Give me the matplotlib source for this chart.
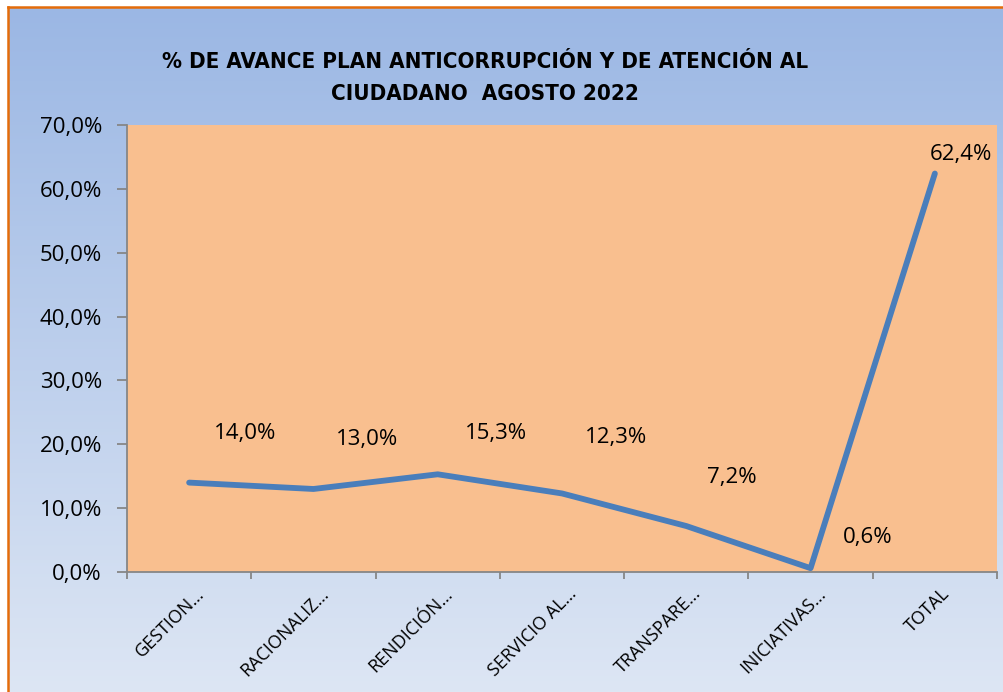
import matplotlib.pyplot as plt
import numpy as np
from matplotlib.colors import LinearSegmentedColormap
from matplotlib.lines import Line2D
from matplotlib.transforms import ScaledTranslation

# ── Data ──────────────────────────────────────────────────────────────
categories = ['GESTION…', 'RACIONALIZ…', 'RENDICIÓN…', 'SERVICIO AL…',
              'TRANSPARE…', 'INICIATIVAS…', 'TOTAL']
values = [14.0, 13.0, 15.3, 12.3, 7.2, 0.6, 62.4]
value_labels = ['14,0%', '13,0%', '15,3%', '12,3%', '7,2%', '0,6%', '62,4%']
y_ticks = [0, 10, 20, 30, 40, 50, 60, 70]
y_tick_labels = ['0,0%', '10,0%', '20,0%', '30,0%', '40,0%', '50,0%', '60,0%', '70,0%']
title = '% DE AVANCE PLAN ANTICORRUPCIÓN Y DE ATENCIÓN AL\nCIUDADANO  AGOSTO 2022'

W, H = 1004, 692
fig = plt.figure(figsize=(W / 100, H / 100), dpi=100, facecolor='white')

# ── Gradient background inside the orange frame ───────────────────────
bg = fig.add_axes([9 / W, 0, 1 - 9 / W, 1 - 7 / H])
cmap = LinearSegmentedColormap.from_list('bg', ['#9BB7E4', '#DDE6F4'])
bg.imshow(np.linspace(0, 1, 256).reshape(-1, 1), aspect='auto', cmap=cmap,
          extent=[0, 1, 0, 1], origin='upper')
bg.axis('off')

frame_color = '#E46C0A'
fig.add_artist(Line2D([8.5 / W, 8.5 / W], [0, 1 - 6.5 / H], color=frame_color,
                      lw=1.8, transform=fig.transFigure))
fig.add_artist(Line2D([8.5 / W, 1], [1 - 6.5 / H, 1 - 6.5 / H], color=frame_color,
                      lw=1.8, transform=fig.transFigure))

# ── Plot area ─────────────────────────────────────────────────────────
ax = fig.add_axes([127 / W, (H - 572) / H, 870 / W, 447 / H])
ax.set_facecolor('#F9BF8F')
x = np.arange(len(categories))
ax.plot(x, values, color='#4A7EBB', lw=4.2, solid_capstyle='round', solid_joinstyle='round')

ax.set_xlim(-0.5, len(categories) - 0.5)
ax.set_ylim(0, 70)

# label offsets in pixels (dx right, dy up)
offsets = [(56, 49), (54, 49), (58, 41), (54, 56), (46, 49), (57, 31), (26, 19)]
for xi, v, lab, (dx, dy) in zip(x, values, value_labels, offsets):
    ax.annotate(lab, (xi, v), xytext=(dx * 0.72, dy * 0.72), textcoords='offset points',
                ha='center', va='center', fontsize=16, family='Open Sans', color='black')

spine_color = '#868686'
for side in ['top', 'right']:
    ax.spines[side].set_visible(False)
for side in ['left', 'bottom']:
    ax.spines[side].set_color(spine_color)
    ax.spines[side].set_linewidth(1.3)

ax.set_yticks(y_ticks)
ax.set_yticklabels(y_tick_labels, fontsize=16, family='Open Sans')
ax.tick_params(axis='y', length=7, width=1.3, color=spine_color, pad=11)

ax.set_xticks(np.arange(-0.5, len(categories)))
ax.set_xticklabels([])
ax.tick_params(axis='x', which='major', length=5, width=1.3, color=spine_color)
ax.set_xticks(x, minor=True)
ax.set_xticklabels(categories, minor=True, rotation=45, ha='right', va='top',
                   rotation_mode='anchor', fontsize=13, family='Open Sans')
ax.tick_params(axis='x', which='minor', length=0, pad=9)
shift = ScaledTranslation(6 / 100, 0, fig.dpi_scale_trans)
for lbl in ax.get_xticklabels(minor=True):
    lbl.set_transform(lbl.get_transform() + shift)

fig.text(485 / W, 1 - 78 / H, title, ha='center', va='center', fontsize=16,
         fontweight='bold', family='DejaVu Sans', fontstretch='condensed',
         linespacing=1.8)

fig.savefig('out.png', dpi=100)
